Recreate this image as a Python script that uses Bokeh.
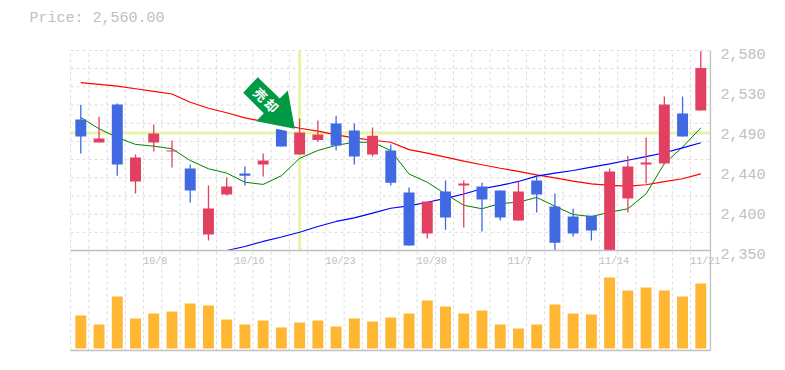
from bokeh.plotting import figure
from bokeh.models import ColumnDataSource, Range1d, LabelSet, Label, PolyAnnotation
from bokeh.embed import file_html
from bokeh.resources import INLINE
from bokeh.core.properties import value
import numpy as np

body_top = [2500.7,2478.8,2517.9,2457,2484.6,2465,2444.3,2398.3,2423.6,2438.6,2453.5,2490.3,2485.7,2483.4,2496,2488,2482,2465,2416.7,2406.4,2417.9,2427,2423.6,2419,2417.9,2430.5,2400.6,2389,2390,2440.9,2446.6,2451.2,2517.9,2507.6,2560]
body_bot = [2481.1,2474.2,2449,2429.4,2474.2,2463.9,2419,2368.4,2414.4,2436,2448.9,2469.6,2460.4,2477,2470.8,2458,2460.4,2428,2355.8,2369.6,2388,2424.8,2408.6,2388,2384.5,2414.4,2359,2369.6,2373,2350,2409.8,2449,2450,2481,2511]
highs = [2517.6,2503.8,2519,2460.4,2494.9,2476.5,2448.9,2424.8,2434,2446.6,2461.6,2490.3,2501.8,2499.5,2505,2496,2491.5,2472,2422.5,2406.4,2430.5,2430.5,2428,2419,2429.4,2435,2415.5,2398,2390,2444.3,2459,2480,2527,2527,2579]
lows = [2461.5,2474.2,2436,2415.5,2463.9,2445.5,2405.2,2361.5,2413.3,2424.8,2435,2469.6,2460.4,2475,2465,2449,2458,2424.8,2355.8,2363.8,2374,2376.5,2371.8,2384.5,2384.5,2393.7,2350,2366,2361.5,2350,2393.7,2427,2449,2481,2511]
kinds = ["b","r","b","r","r","r","b","r","r","b","r","b","r","r","b","b","r","b","b","r","b","r","b","b","r","b","b","b","b","r","r","r","r","b","r"]
volume = [33,24,52,30,35,37,45,43,29,24,28,21,26,28,22,30,27,31,35,48,42,35,38,24,20,24,44,35,34,71,58,61,58,52,65]
ma_green = [2503,2490,2480,2472,2470,2467,2453.5,2444,2439,2428.5,2426,2436,2456,2465,2471,2474.5,2474.5,2465,2438,2428.5,2415,2402,2398,2404,2405.5,2411,2401,2391.4,2389,2394,2398,2415,2450,2469,2491]
ma_red = [2543,2541,2539,2536,2533,2530,2520.5,2513.6,2508.4,2502.6,2498.4,2495,2490.6,2487.2,2483,2479.6,2476.8,2474.5,2466,2462,2457.3,2452.7,2448.6,2444.6,2441,2437,2433.6,2429.7,2426.7,2425,2424,2425.6,2429.3,2432.5,2438.2]
ma_blue = [2350,2354.6,2360.4,2365.5,2371,2377.6,2383.4,2387.6,2393,2398.6,2401.4,2405.5,2410,2415,2421,2424.8,2429.4,2435.5,2439,2442,2445.8,2449.7,2453.8,2458,2462.4,2468,2473.9]
price_ticks = [2580,2534,2488,2442,2396,2350]
price_labels = ["2,580","2,530","2,490","2,440","2,400","2,350"]
date_idx = [4,9,14,19,24,29,34]
date_labels = ["10/8","10/16","10/23","10/30","11/7","11/14","11/21"]
cross_idx = 12
cross_price = 2485
current = "Price: 2,560.00"

n = len(volume)
idx = list(range(n))
# plot area limits, in data units
L, R = -0.565, 34.53
TOP, MID, BOT = 2580, 2350, 2235
MONO = "Liberation Mono"
GREY = "#c0c0c0"
GRID = "#dcdcdc"

p = figure(width=785, height=370, output_backend="svg", toolbar_location=None,
           x_range=Range1d(-4.404, 38.645), y_range=Range1d(2212, 2637.5),
           x_axis_type=None, y_axis_type=None,
           min_border=0, background_fill_color="white", border_fill_color="white", outline_line_color=None)
p.extra_y_ranges = {"vol": Range1d(-22, 348)}

# grids
gx = [k - 0.56 for k in range(n)]
gy = list(np.linspace(MID, TOP, 12))[1:]
p.segment(x0=gx, x1=gx, y0=[BOT]*n, y1=[TOP]*n, line_color=GRID, line_dash="3 3", line_width=1)
p.segment(x0=[L]*len(gy), x1=[R]*len(gy), y0=gy, y1=gy, line_color=GRID, line_dash="3 3", line_width=1)

# crosshair
p.segment([L, cross_idx], [cross_price, MID+1], [R, cross_idx], [cross_price, TOP], line_color="#e4f5a8", line_width=3)

# moving averages (under the candles)
p.line(idx, ma_red, line_color="#ff0000", line_width=1.2)
p.line(idx, ma_green, line_color="#008000", line_width=1)
p.line(idx[8:], ma_blue, line_color="#0000ff", line_width=1.2)

# candles
col = {"r": "#e24060", "b": "#4169e1"}
src = ColumnDataSource(dict(x=idx, top=body_top, bot=body_bot, hi=highs, lo=lows,
                            c=[col[k] for k in kinds], vol=volume))
p.segment("x", "hi", "x", "lo", source=src, line_color="c", line_width=1.3)
p.vbar("x", 0.6, "bot", "top", source=src, fill_color="c", line_color=None)

# volume
p.vbar("x", 0.6, 0, "vol", source=src, fill_color="#ffb733", line_color=None, y_range_name="vol")

# frame lines
p.segment([L, L, R], [MID, BOT, BOT], [R, R, R], [MID, BOT, TOP], line_color=GREY, line_width=1.3)

# axis texts
p.add_layout(LabelSet(x="x", y="y", text="t", source=ColumnDataSource(dict(
    x=[R]*len(price_ticks), y=price_ticks, t=price_labels)),
    x_offset=10, y_offset=-3, text_font=value(MONO), text_font_size="15px",
    text_color=GREY, text_baseline="middle", text_align="left"))
p.add_layout(LabelSet(x="x", y="y", text="t", source=ColumnDataSource(dict(
    x=date_idx, y=[MID]*len(date_idx), t=date_labels)),
    x_offset=-10.5, y_offset=-11, text_font=value(MONO), text_font_size="10px",
    text_color=GREY, text_baseline="middle", text_align="left"))
p.add_layout(Label(x=L, y=TOP, text=current, x_offset=-41, y_offset=32,
                   text_font=MONO, text_font_size="15px", text_color=GREY,
                   text_baseline="middle", text_align="left"))

# arrow marker, in canvas pixels
ax = np.array([257.3,242.7,263.3,255.7,294.3,287.3,279.3])
ay = 370 - np.array([76.7,92.3,112.7,120.7,128.3,90,98])
p.add_layout(PolyAnnotation(xs=list(ax-1), ys=list(ay-3.5), xs_units="screen", ys_units="screen",
                            fill_color="white", fill_alpha=1, line_color=None, level="overlay"))
p.add_layout(PolyAnnotation(xs=list(ax), ys=list(ay), xs_units="screen", ys_units="screen",
                            fill_color="#009944", fill_alpha=1, line_color=None, level="overlay"))
p.add_layout(Label(x=cross_idx, y=TOP, text="売", x_offset=-39, y_offset=-44, angle=-45, angle_units="deg",
                   text_font="Noto Sans CJK JP", text_font_style="bold", text_font_size="13px", text_color="white",
                   text_align="center", text_baseline="middle", level="overlay"))
p.add_layout(Label(x=cross_idx, y=TOP, text="却", x_offset=-28, y_offset=-55, angle=-45, angle_units="deg",
                   text_font="Noto Sans CJK JP", text_font_style="bold", text_font_size="13px", text_color="white",
                   text_align="center", text_baseline="middle", level="overlay"))

open("out.html", "w").write(file_html(p, INLINE))
